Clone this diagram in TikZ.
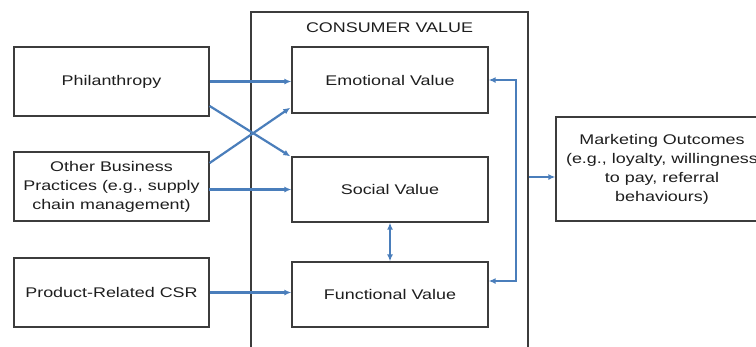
\documentclass[tikz,border=0pt]{standalone}
\usepackage{fontspec}
\setmainfont{Liberation Sans}[FakeStretch=1.28]
\usetikzlibrary{arrows.meta,calc}
\definecolor{arrblue}{RGB}{74,126,187}
\definecolor{boxgray}{RGB}{60,60,60}
\definecolor{txt}{RGB}{30,30,30}
\begin{document}
\begin{tikzpicture}[x=1pt,y=-1pt,
  box/.style={draw=boxgray,line width=1.3pt,rectangle,align=center,inner sep=0pt,
    font=\fontsize{14}{19}\selectfont,text=txt},
  arr/.style={draw=arrblue,line width=2.2pt,-{Latex[length=7pt,width=6pt]}},
  darr/.style={draw=arrblue,line width=2.2pt,{Latex[length=7pt,width=6pt]}-{Latex[length=7pt,width=6pt]}}]
\useasboundingbox (0,0) rectangle (756,346);
\fill[white] (0,0) rectangle (756,346);
% container
\node[box,minimum width=277pt,minimum height=350pt] (cv) at (389.5,187) {};
\node[font=\fontsize{14}{19}\selectfont,text=txt] (cvlabel) at (389.5,28) {CONSUMER VALUE};
% left boxes
\node[box,minimum width=195pt,minimum height=69pt] (phil) at (111.5,81.5) {Philanthropy};
\node[box,minimum width=195pt,minimum height=69pt] (oth) at (111.5,186.5) {Other Business\\Practices (e.g., supply\\chain management)};
\node[box,minimum width=195pt,minimum height=69pt] (prod) at (111.5,292.5) {Product-Related CSR};
% value boxes
\node[box,minimum width=196pt,minimum height=66pt] (emo) at (390,80) {Emotional Value};
\node[box,minimum width=196pt,minimum height=65pt] (soc) at (390,189.5) {Social Value};
\node[box,minimum width=196pt,minimum height=65pt] (func) at (390,294.5) {Functional Value};
% marketing
\node[box,minimum width=212pt,minimum height=104pt] (mk) at (662,169) {Marketing Outcomes\\(e.g., loyalty, willingness\\to pay, referral\\behaviours)};
% arrows
\draw[arr] (phil.east) -- (phil.east -| emo.west);
\draw[arr] ([yshift=-24.5pt]phil.east) -- ([xshift=-1pt]soc.north west);
\draw[arr] ([yshift=23.5pt]oth.east) -- ([xshift=-1pt,yshift=6pt]emo.south west);
\draw[arr] ([yshift=-1.5pt]oth.east) -- (oth.east |- soc.west) -- (soc.west);
\draw[arr] (prod.east) -- (prod.east -| func.west);
\draw[darr] (soc.south) -- (func.north);
\draw[darr] (emo.east) -- ++(27pt,0) |- ([yshift=13.5pt]func.east);
\draw[arr] (cv.east |- 0,177) -- (mk.west |- 0,177);
\end{tikzpicture}
\end{document}
